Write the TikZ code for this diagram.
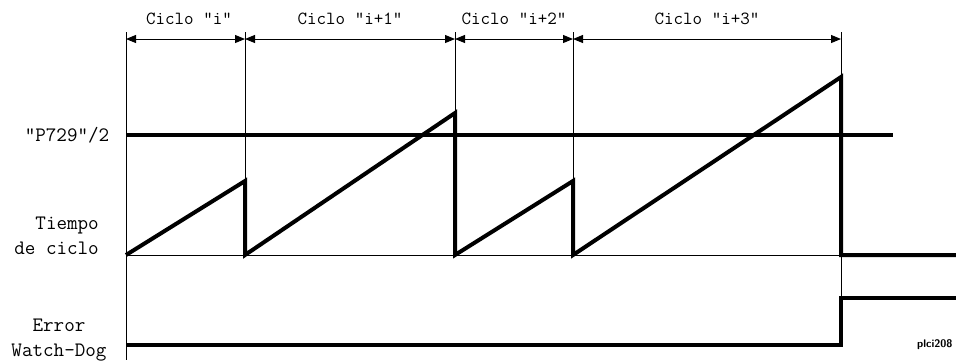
\documentclass[tikz,border=0pt]{standalone}
\usepackage{fontspec}
\usetikzlibrary{arrows.meta}
\begin{document}
\begin{tikzpicture}[x=1pt,y=-1pt,
  thinln/.style={line width=1pt},
  thickln/.style={line width=4pt,line join=miter},
  dim/.style={line width=1pt,{Triangle[length=10pt,width=8pt]}-{Triangle[length=10pt,width=8pt]}},
  toplbl/.style={font=\ttfamily\fontsize{18.5}{18.5}\selectfont,inner sep=0pt},
  sidelbl/.style={font=\ttfamily\fontsize{20.5}{25}\selectfont,inner sep=0pt,align=center}]
\useasboundingbox (0,0) rectangle (956,360);
% tick tops
\coordinate (a0) at (126,32);
\coordinate (a1) at (245,32);
\coordinate (a2) at (455,32);
\coordinate (a3) at (573,32);
\coordinate (a4) at (841,32);
% dimension line points
\coordinate (d0) at (126,39);
\coordinate (d1) at (245,39);
\coordinate (d2) at (455,39);
\coordinate (d3) at (573,39);
\coordinate (d4) at (841,39);
% baseline points
\coordinate (b0) at (126,255);
\coordinate (b1) at (245,255);
\coordinate (b2) at (455,255);
\coordinate (b3) at (573,255);
\coordinate (b4) at (841,255);
\coordinate (bend) at (956,255);
% peaks
\coordinate (p1) at (245,181);
\coordinate (p2) at (455,113);
\coordinate (p3) at (573,181);
\coordinate (p4) at (841,77);
% threshold
\coordinate (th0) at (126,135);
\coordinate (th1) at (893,135);
% watchdog
\coordinate (w0) at (126,345);
\coordinate (w1) at (841,345);
\coordinate (w2) at (841,298);
\coordinate (w3) at (956,298);
\coordinate (ybot) at (126,360);
% vertical thin lines
\draw[thinln] (a0) -- (ybot);
\draw[thinln] (a1) -- (b1);
\draw[thinln] (a2) -- (b2);
\draw[thinln] (a3) -- (b3);
\draw[thinln] (a4) -- (w2);
% baseline
\draw[thinln] (b0) -- (b4);
% dimension arrows
\draw[dim] (d0) -- (d1);
\draw[dim] (d1) -- (d2);
\draw[dim] (d2) -- (d3);
\draw[dim] (d3) -- (d4);
% labels
\node[toplbl] (c0) at (189,19) {Ciclo ”i”};
\node[toplbl] (c1) at (350,19) {Ciclo ”i+1”};
\node[toplbl] (c2) at (514,19) {Ciclo ”i+2”};
\node[toplbl] (c3) at (707,19) {Ciclo ”i+3”};
% threshold
\draw[thickln] (th0) -- (th1);
% sawtooth
\draw[thickln] (b0) -- (p1) -- (b1) -- (p2) -- (b2) -- (p3) -- (b3) -- (p4) -- (b4) -- (bend);
% watchdog
\draw[thickln] (w0) -- (w1) -- (w2) -- (w3);
% side labels
\node[sidelbl,anchor=center] (lp) at (67,135) {”P729”/2};
\node[sidelbl,anchor=east,align=right] (lt) at (99,236) {Tiempo\\de ciclo};
\node[sidelbl] (le) at (59,340) {Error\\Watch-Dog};
\node[font=\sffamily\bfseries\fontsize{11}{11}\selectfont,anchor=west,inner sep=0pt] (pl) at (917,345) {plci208};
\end{tikzpicture}
\end{document}
